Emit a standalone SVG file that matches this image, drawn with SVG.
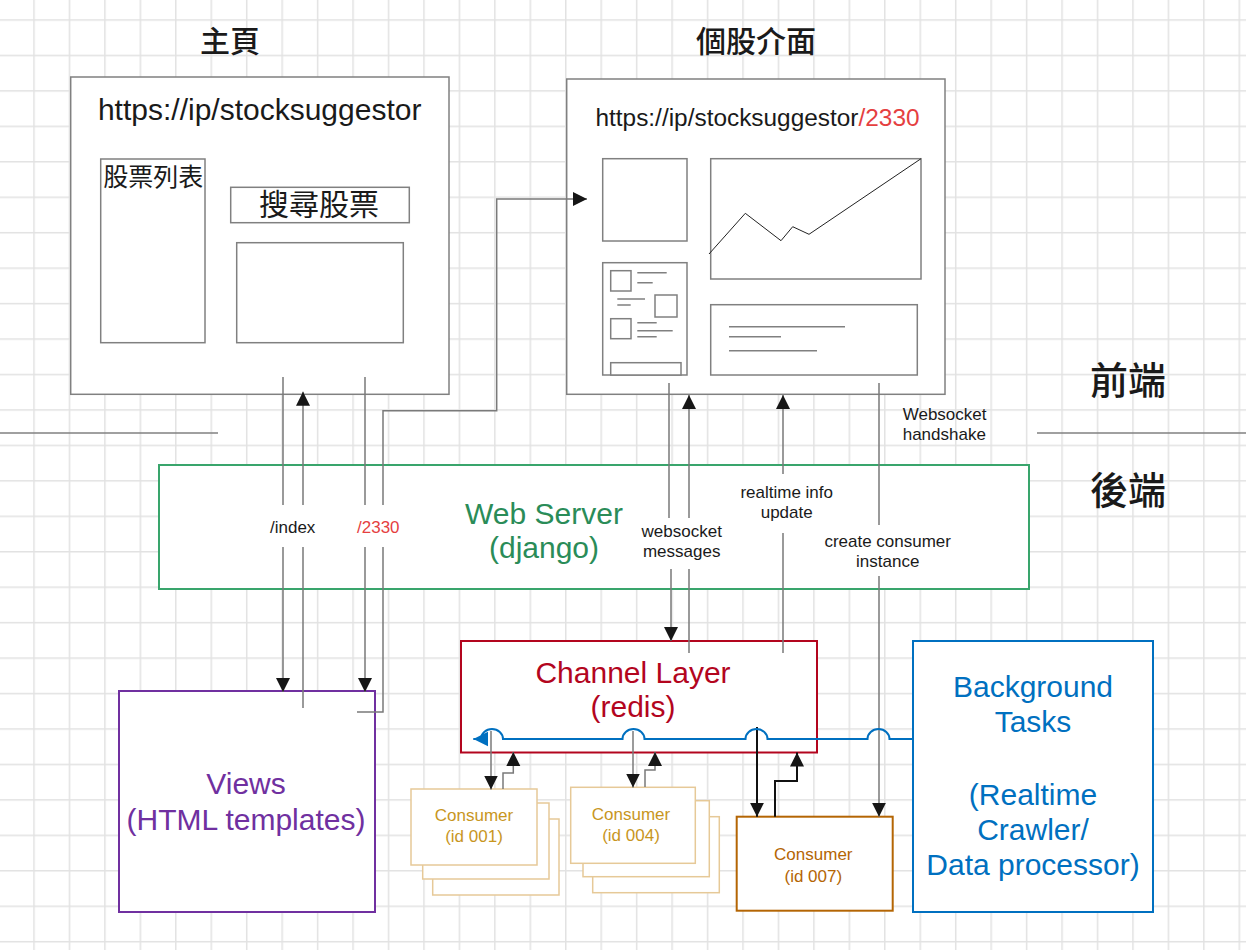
<svg xmlns="http://www.w3.org/2000/svg" width="1246" height="950" viewBox="0 0 1246 950">
<defs>
<pattern id="grid" width="35.45" height="35.45" patternUnits="userSpaceOnUse" x="33.25" y="19.25">
<path d="M0.75 0V35.45M0 0.75H35.45" stroke="#e2e2e2" stroke-width="1.5" fill="none"/>
</pattern>
<marker id="arr" markerUnits="userSpaceOnUse" markerWidth="15" markerHeight="15" refX="14" refY="7" orient="auto">
<path d="M0,0 L14,7 L0,14 z" fill="#161616"/>
</marker>
<marker id="arrB" markerUnits="userSpaceOnUse" markerWidth="16" markerHeight="16" refX="15" refY="7.5" orient="auto">
<path d="M0,0 L15,7.5 L0,15 z" fill="#0070C0"/>
</marker>
<style>
.box{fill:#fff;stroke:#808080;stroke-width:1.5}
.inner{fill:#fff;stroke:#808080;stroke-width:1.5}
.thin{fill:none;stroke:#808080;stroke-width:1.5}
.chart{fill:none;stroke:#222;stroke-width:1}
.cjk{font-family:"Noto Sans CJK TC","Noto Sans CJK SC",sans-serif;fill:#1a1a1a;font-weight:500}
.cjkr{font-family:"Noto Sans CJK TC","Noto Sans CJK SC",sans-serif;fill:#1a1a1a;font-weight:400}
.lat{font-family:"Liberation Sans",Arial,sans-serif}
.lbl{font-family:"Liberation Sans",Arial,sans-serif;font-size:17px;fill:#1a1a1a;text-anchor:middle}
.big{font-family:"Liberation Sans",Arial,sans-serif;font-size:30px;text-anchor:middle}
.conn{fill:none;stroke:#7a7a7a;stroke-width:1.5}
.connK{fill:none;stroke:#111;stroke-width:2}
.cons{fill:#fff;stroke:#E6C998;stroke-width:1.5}
.ctext{font-family:"Liberation Sans",Arial,sans-serif;font-size:17px;fill:#C8961E;text-anchor:middle}
</style>
</defs>
<rect width="1246" height="950" fill="#fff"/>
<rect width="1246" height="950" fill="url(#grid)"/>

<g id="separator">
<line x1="0" y1="433" x2="218" y2="433" stroke="#808080" stroke-width="1.5"/>
<line x1="1037" y1="433" x2="1246" y2="433" stroke="#808080" stroke-width="1.5"/>
<text x="1128" y="394" class="cjk" font-size="38" text-anchor="middle">前端</text>
<text x="1128" y="504" class="cjk" font-size="38" text-anchor="middle">後端</text>
</g>

<g id="homepage">
<text x="230" y="52" class="cjk" font-size="30" text-anchor="middle">主頁</text>
<rect x="70.7" y="77" width="378.3" height="317.3" class="box"/>
<text x="259.7" y="120" class="lat" font-size="30" fill="#1a1a1a" text-anchor="middle">https://ip/stocksuggestor</text>
<rect x="100.7" y="159" width="104.3" height="183.7" class="inner"/>
<text x="153.3" y="185.5" class="cjkr" font-size="25" text-anchor="middle">股票列表</text>
<rect x="230.7" y="187.3" width="178.6" height="35.4" class="inner"/>
<text x="319" y="215" class="cjkr" font-size="30" text-anchor="middle">搜尋股票</text>
<rect x="236.7" y="242.7" width="166.6" height="100" class="inner"/>
</g>

<g id="stockpage">
<text x="756" y="52" class="cjk" font-size="30" text-anchor="middle">個股介面</text>
<rect x="566.7" y="79" width="378.3" height="315.3" class="box"/>
<text x="757.5" y="126" class="lat" font-size="24.4" fill="#1a1a1a" text-anchor="middle">https://ip/stocksuggestor<tspan fill="#E5403F">/2330</tspan></text>
<rect x="602.7" y="158.7" width="84.3" height="82.3" class="inner"/>
<rect x="710.7" y="158.7" width="210.3" height="120.3" class="inner"/>
<polyline points="709,254 745.3,213.3 781,240.7 792.7,226.7 809,234.3 921,158.7" class="chart"/>
<rect x="602.7" y="262.7" width="84.3" height="112.3" class="inner"/>
<rect x="610.7" y="270.7" width="20.3" height="20.3" class="inner"/>
<rect x="655" y="295" width="22" height="22" class="inner"/>
<rect x="610.7" y="318.7" width="20.3" height="20" class="inner"/>
<rect x="610.7" y="362.7" width="70.3" height="12.3" class="inner"/>
<path d="M637.3 272.7H666.7M637.3 282.7H652.7M617.3 299H645M617.3 305H630.7M637.3 322.7H656.7M637.3 330.7H672.7M637.3 336.7H656.7" class="thin"/>
<rect x="710.7" y="304.7" width="206.6" height="70.3" class="inner"/>
<path d="M729 326.7H845M729 336.7H781M729 350.7H817" class="thin"/>
</g>

<g id="webserver">
<rect x="159" y="465" width="870" height="124" fill="#fff" stroke="#39A56C" stroke-width="2"/>
<text x="544" y="524" class="big" fill="#2A8C58">Web Server</text>
<text x="544" y="558" class="big" fill="#2A8C58">(django)</text>
</g>

<g id="channellayer">
<rect x="461" y="641" width="356" height="111.5" fill="#fff" stroke="#B3051E" stroke-width="2"/>
<text x="633" y="683" class="big" fill="#B3051E">Channel Layer</text>
<text x="633" y="717" class="big" fill="#B3051E">(redis)</text>
</g>

<g id="views">
<rect x="119" y="691" width="256" height="221" fill="#fff" stroke="#7030A0" stroke-width="2"/>
<text x="246" y="794" class="big" fill="#7030A0">Views</text>
<text x="246" y="830" class="big" fill="#7030A0">(HTML templates)</text>
</g>

<g id="background">
<rect x="913" y="641" width="240" height="271" fill="#fff" stroke="#0070C0" stroke-width="2"/>
<text class="big" fill="#0070C0"><tspan x="1033" y="697">Background</tspan><tspan x="1033" y="732">Tasks</tspan><tspan x="1033" y="805">(Realtime</tspan><tspan x="1033" y="840">Crawler/</tspan><tspan x="1033" y="875">Data processor)</tspan></text>
</g>

<g id="consumer001">
<rect x="432.7" y="819" width="126.3" height="76" class="cons"/>
<rect x="422.7" y="803" width="126.3" height="76" class="cons"/>
<rect x="411" y="789" width="126" height="76" class="cons"/>
<text x="474" y="821" class="ctext">Consumer</text>
<text x="474" y="842" class="ctext">(id 001)</text>
</g>

<g id="consumer004">
<rect x="592.7" y="816.7" width="126.6" height="76" class="cons"/>
<rect x="583" y="800.7" width="126.3" height="76" class="cons"/>
<rect x="570.7" y="787.3" width="124.6" height="76" class="cons"/>
<text x="631" y="820" class="ctext">Consumer</text>
<text x="631" y="841" class="ctext">(id 004)</text>
</g>

<g id="consumer007">
<rect x="736.7" y="816.7" width="156" height="94" fill="#fff" stroke="#B46504" stroke-width="2"/>
<text x="813.3" y="860" class="ctext" style="fill:#B46504">Consumer</text>
<text x="813.3" y="881.7" class="ctext" style="fill:#B46504">(id 007)</text>
</g>

<g id="connectors">
<path d="M283 377V505M283 547V692" class="conn" marker-end="url(#arr)"/>
<path d="M303 708V547M303 505V391.7" class="conn" marker-end="url(#arr)"/>
<path d="M365 377V505M365 547V692" class="conn" marker-end="url(#arr)"/>
<path d="M357 712H383V547M383 505V410.7H496.7V199H587" class="conn" marker-end="url(#arr)"/>
<text x="292.7" y="533" class="lbl">/index</text>
<text x="378.3" y="533" class="lbl" style="fill:#E5403F">/2330</text>

<path d="M669 383V518M671 569V641" class="conn" marker-end="url(#arr)"/>
<path d="M689 653V569M689 518V395" class="conn" marker-end="url(#arr)"/>
<text class="lbl"><tspan x="681.7" y="537">websocket</tspan><tspan x="681.7" y="557">messages</tspan></text>
<path d="M783 653V533M783 474V395" class="conn" marker-end="url(#arr)"/>
<text class="lbl"><tspan x="786.7" y="498">realtime info</tspan><tspan x="786.7" y="518">update</tspan></text>
<path d="M879 383V525M879 576V816.7" class="conn" marker-end="url(#arr)"/>
<text class="lbl"><tspan x="887.7" y="547">create consumer</tspan><tspan x="887.7" y="567">instance</tspan></text>
<text class="lbl" style="text-anchor:start"><tspan x="902.7" y="420">Websocket</tspan><tspan x="902.7" y="440">handshake</tspan></text>

<path d="M491 731V789.5" class="conn" marker-end="url(#arr)"/>
<path d="M503 789V773H513.3V752" class="conn" marker-end="url(#arr)"/>
<path d="M633 731V787.5" class="conn" marker-end="url(#arr)"/>
<path d="M645 787V770H655V752" class="conn" marker-end="url(#arr)"/>
<path d="M757 727V816.7" class="connK" marker-end="url(#arr)"/>
<path d="M775 816.7V781H797V752.5" class="connK" marker-end="url(#arr)"/>

<path d="M913 739H889.5A11 10 0 0 0 867.5 739H767.5A11 10 0 0 0 745.5 739H644.5A11 10 0 0 0 622.5 739H503A11 10 0 0 0 481 739H473.3" fill="none" stroke="#0070C0" stroke-width="2" marker-end="url(#arrB)"/>
</g>
</svg>
